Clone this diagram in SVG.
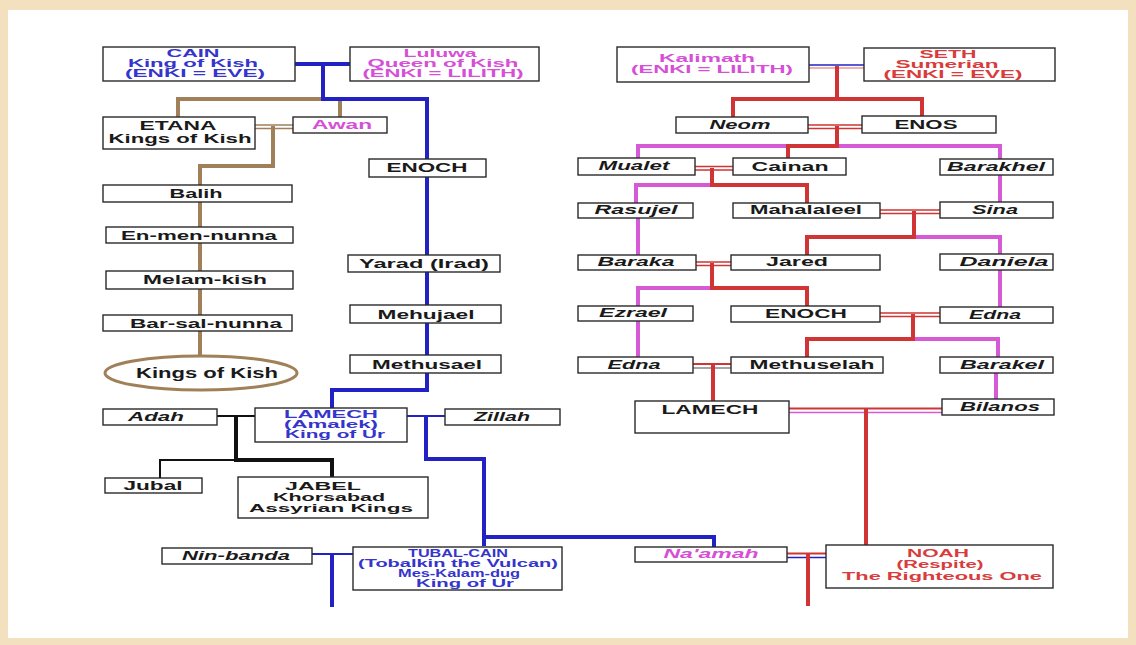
<svg xmlns="http://www.w3.org/2000/svg" width="1136" height="645" viewBox="0 0 1136 645">
<style>
.bx{fill:#fff;stroke:#2a2a2a;stroke-width:1.4}
.t{font-family:"Liberation Sans",Arial,sans-serif;font-weight:bold;text-anchor:middle;font-size:12px;fill:#1a1a1a}
.sm{font-size:10.5px}
.it{font-style:italic}
.tb{fill:#3535cc}
.tm{fill:#d64fd6}
.tr{fill:#d83c3c}
.lb{stroke:#2222c4;fill:none}
.lr{stroke:#d03434;fill:none}
.lm{stroke:#d659d6;fill:none}
.ln{stroke:#a08058;fill:none}
.lk{stroke:#111;fill:none}
.w4{stroke-width:4}
.w2{stroke-width:2}
.w1{stroke-width:1.3}
</style>
<rect x="0" y="0" width="1136" height="645" fill="#f2e0bf"/>
<rect x="8" y="10" width="1120" height="628" fill="#fff"/>

<g id="connectors">
  <path class="ln w4" d="M178 117V99H323M340 99V117"/>
  <path class="ln w1" d="M255 125H293M255 128.5H293"/>
  <path class="ln w4" d="M273 126V166H200V356"/>
  <path class="lb w4" d="M293 64H353M323 64V99H427V390H332V408"/>
  <path class="lk w2" d="M217 416H255"/>
  <path class="lk w4" d="M236 416V460H332V477"/>
  <path class="lk w2" d="M236 460H160V478"/>
  <path class="lb w2" d="M407 416H445"/>
  <path class="lb w4" d="M426 416V459H484V546M484 537H714V547"/>
  <path class="lb w2" d="M312 554H353"/>
  <path class="lb w4" d="M332 554V607"/>
  <path class="lr w2" d="M787 553.5H826"/>
  <path class="lb w1" d="M787 557.5H826"/>
  <path class="lr w4" d="M808 554V606"/>
  <path class="lb w1" d="M809 65H864"/>
  <path class="lr w1" d="M809 68H864" stroke-opacity="0.5"/>
  <path class="lr w4" d="M837 66V99M733 117V99H922V116"/>
  <path class="lr w1" d="M808 125H862M808 128.5H862"/>
  <path class="lm w4" d="M638 158V146H1000V159"/>
  <path class="lr w4" d="M837 126V146H788V158"/>
  <path class="lr w1" d="M695 166.5H733M695 170H733"/>
  <path class="lm w4" d="M712 185H636V203"/>
  <path class="lr w4" d="M712 168V185H807V203"/>
  <path class="lm w4" d="M638 218V255M1000 175V202"/>
  <path class="lr w1" d="M880 210H940M880 213.5H940"/>
  <path class="lm w4" d="M914 237H1000V254"/>
  <path class="lr w4" d="M914 211V237H807V255"/>
  <path class="lr w1" d="M696 262H731M696 265.5H731"/>
  <path class="lm w4" d="M712 288H638V306"/>
  <path class="lr w4" d="M712 263V288H807V306"/>
  <path class="lm w4" d="M1000 270V307M638 321V357"/>
  <path class="lr w1" d="M880 313H940M880 316.5H940"/>
  <path class="lm w4" d="M913 339H998V357"/>
  <path class="lr w4" d="M913 314V339H807V357"/>
  <path class="lr w2" d="M693 364H731"/>
  <path class="lk w1" d="M693 368H731" stroke-opacity="0.5"/>
  <path class="lr w4" d="M713 364V401"/>
  <path class="lm w4" d="M996 373V399"/>
  <path class="lr w2" d="M789 408.5H942"/>
  <path class="lm w1" d="M789 412.5H942"/>
  <path class="lr w4" d="M866 409V545"/>
</g>

<g id="cain"><rect class="bx" x="103" y="47" width="192" height="34"/>
<text class="t sm tb" x="193" y="57" textLength="53" lengthAdjust="spacingAndGlyphs">CAIN</text>
<text class="t sm tb" x="193" y="67" textLength="130" lengthAdjust="spacingAndGlyphs">King of Kish</text>
<text class="t sm tb" x="195" y="77" textLength="140" lengthAdjust="spacingAndGlyphs">(ENKI = EVE)</text></g>

<g id="luluwa"><rect class="bx" x="350" y="47" width="189" height="34"/>
<text class="t sm tm" x="440" y="57" textLength="73" lengthAdjust="spacingAndGlyphs">Luluwa</text>
<text class="t sm tm" x="443" y="67" textLength="151" lengthAdjust="spacingAndGlyphs">Queen of Kish</text>
<text class="t sm tm" x="443" y="77" textLength="161" lengthAdjust="spacingAndGlyphs">(ENKI = LILITH)</text></g>

<g id="etana"><rect class="bx" x="103" y="117" width="152" height="32"/>
<text class="t" x="178" y="130" textLength="77" lengthAdjust="spacingAndGlyphs">ETANA</text>
<text class="t" x="180" y="143" textLength="143" lengthAdjust="spacingAndGlyphs">Kings of Kish</text></g>

<g id="awan"><rect class="bx" x="293" y="117" width="94" height="16"/>
<text class="t tm" x="342" y="129" textLength="60" lengthAdjust="spacingAndGlyphs">Awan</text></g>

<g id="balih"><rect class="bx" x="103" y="185" width="189" height="17"/>
<text class="t" x="196" y="198" textLength="53" lengthAdjust="spacingAndGlyphs">Balih</text></g>

<g id="enmennunna"><rect class="bx" x="106" y="227" width="187" height="16"/>
<text class="t" x="199" y="240" textLength="156" lengthAdjust="spacingAndGlyphs">En-men-nunna</text></g>

<g id="melamkish"><rect class="bx" x="106" y="271" width="187" height="18"/>
<text class="t" x="205" y="284" textLength="124" lengthAdjust="spacingAndGlyphs">Melam-kish</text></g>

<g id="barsalnunna"><rect class="bx" x="103" y="315" width="189" height="16"/>
<text class="t" x="206" y="328" textLength="152" lengthAdjust="spacingAndGlyphs">Bar-sal-nunna</text></g>

<g id="kingsofkish"><ellipse cx="201" cy="373" rx="96" ry="17" fill="#fff" stroke="#a08058" stroke-width="3"/>
<text class="t" style="font-size:15px" x="207" y="378" textLength="142" lengthAdjust="spacingAndGlyphs">Kings of Kish</text></g>

<g id="enoch-l"><rect class="bx" x="369" y="159" width="117" height="18"/>
<text class="t" x="427" y="172" textLength="81" lengthAdjust="spacingAndGlyphs">ENOCH</text></g>

<g id="yarad"><rect class="bx" x="348" y="255" width="152" height="17"/>
<text class="t" x="424" y="268" textLength="130" lengthAdjust="spacingAndGlyphs">Yarad (Irad)</text></g>

<g id="mehujael"><rect class="bx" x="350" y="305" width="151" height="18"/>
<text class="t" x="426" y="319" textLength="97" lengthAdjust="spacingAndGlyphs">Mehujael</text></g>

<g id="methusael"><rect class="bx" x="350" y="355" width="151" height="18"/>
<text class="t" x="427" y="369" textLength="110" lengthAdjust="spacingAndGlyphs">Methusael</text></g>

<g id="lamech-l"><rect class="bx" x="255" y="408" width="152" height="34"/>
<text class="t sm tb" x="331" y="418" textLength="94" lengthAdjust="spacingAndGlyphs">LAMECH</text>
<text class="t sm tb" x="331" y="428" textLength="94" lengthAdjust="spacingAndGlyphs">(Amalek)</text>
<text class="t sm tb" x="335" y="438" textLength="100" lengthAdjust="spacingAndGlyphs">King of Ur</text></g>

<g id="adah"><rect class="bx" x="103" y="409" width="114" height="16"/>
<text class="t it" x="156" y="421" textLength="56" lengthAdjust="spacingAndGlyphs">Adah</text></g>

<g id="zillah"><rect class="bx" x="445" y="409" width="115" height="16"/>
<text class="t it" x="502" y="421" textLength="56" lengthAdjust="spacingAndGlyphs">Zillah</text></g>

<g id="jubal"><rect class="bx" x="105" y="478" width="97" height="15"/>
<text class="t" x="153" y="490" textLength="59" lengthAdjust="spacingAndGlyphs">Jubal</text></g>

<g id="jabel"><rect class="bx" x="238" y="477" width="190" height="41"/>
<text class="t sm" x="323" y="490" textLength="76" lengthAdjust="spacingAndGlyphs">JABEL</text>
<text class="t sm" x="329" y="501" textLength="112" lengthAdjust="spacingAndGlyphs">Khorsabad</text>
<text class="t sm" x="331" y="512" textLength="164" lengthAdjust="spacingAndGlyphs">Assyrian Kings</text></g>

<g id="ninbanda"><rect class="bx" x="162" y="548" width="150" height="16"/>
<text class="t it" x="236" y="560" textLength="108" lengthAdjust="spacingAndGlyphs">Nin-banda</text></g>

<g id="tubalcain"><rect class="bx" x="353" y="547" width="209" height="43"/>
<text class="t sm tb" x="458" y="557" textLength="100" lengthAdjust="spacingAndGlyphs">TUBAL-CAIN</text>
<text class="t sm tb" x="458" y="567" textLength="200" lengthAdjust="spacingAndGlyphs">(Tobalkin the Vulcan)</text>
<text class="t sm tb" x="459" y="577" textLength="122" lengthAdjust="spacingAndGlyphs">Mes-Kalam-dug</text>
<text class="t sm tb" x="465" y="587" textLength="98" lengthAdjust="spacingAndGlyphs">King of Ur</text></g>

<g id="naamah"><rect class="bx" x="635" y="547" width="152" height="15"/>
<text class="t it tm" x="711" y="558" textLength="95" lengthAdjust="spacingAndGlyphs">Na'amah</text></g>

<g id="noah"><rect class="bx" x="826" y="545" width="227" height="43"/>
<text class="t sm tr" x="938" y="557" textLength="62" lengthAdjust="spacingAndGlyphs">NOAH</text>
<text class="t sm tr" x="940" y="568" textLength="87" lengthAdjust="spacingAndGlyphs">(Respite)</text>
<text class="t sm tr" x="942" y="580" textLength="200" lengthAdjust="spacingAndGlyphs">The Righteous One</text></g>

<g id="kalimath"><rect class="bx" x="617" y="47" width="192" height="35"/>
<text class="t sm tm" x="707" y="62" textLength="96" lengthAdjust="spacingAndGlyphs">Kalimath</text>
<text class="t sm tm" x="712" y="73" textLength="162" lengthAdjust="spacingAndGlyphs">(ENKI = LILITH)</text></g>

<g id="seth"><rect class="bx" x="864" y="48" width="191" height="33"/>
<text class="t sm tr" x="948" y="58" textLength="57" lengthAdjust="spacingAndGlyphs">SETH</text>
<text class="t sm tr" x="947" y="68" textLength="103" lengthAdjust="spacingAndGlyphs">Sumerian</text>
<text class="t sm tr" x="953" y="78" textLength="139" lengthAdjust="spacingAndGlyphs">(ENKI = EVE)</text></g>

<g id="neom"><rect class="bx" x="676" y="117" width="132" height="16"/>
<text class="t it" x="740" y="129" textLength="61" lengthAdjust="spacingAndGlyphs">Neom</text></g>

<g id="enos"><rect class="bx" x="862" y="116" width="134" height="17"/>
<text class="t" x="926" y="129" textLength="63" lengthAdjust="spacingAndGlyphs">ENOS</text></g>

<g id="mualet"><rect class="bx" x="578" y="158" width="117" height="17"/>
<text class="t it" x="634" y="170" textLength="71" lengthAdjust="spacingAndGlyphs">Mualet</text></g>

<g id="cainan"><rect class="bx" x="733" y="158" width="113" height="17"/>
<text class="t" x="790" y="171" textLength="77" lengthAdjust="spacingAndGlyphs">Cainan</text></g>

<g id="barakhel"><rect class="bx" x="940" y="159" width="113" height="16"/>
<text class="t it" x="996" y="171" textLength="98" lengthAdjust="spacingAndGlyphs">Barakhel</text></g>

<g id="rasujel"><rect class="bx" x="578" y="203" width="115" height="15"/>
<text class="t it" x="636" y="214" textLength="83" lengthAdjust="spacingAndGlyphs">Rasujel</text></g>

<g id="mahalaleel"><rect class="bx" x="733" y="203" width="147" height="15"/>
<text class="t" x="806" y="214" textLength="112" lengthAdjust="spacingAndGlyphs">Mahalaleel</text></g>

<g id="sina"><rect class="bx" x="940" y="202" width="113" height="16"/>
<text class="t it" x="995" y="214" textLength="46" lengthAdjust="spacingAndGlyphs">Sina</text></g>

<g id="baraka"><rect class="bx" x="578" y="255" width="118" height="15"/>
<text class="t it" x="636" y="266" textLength="77" lengthAdjust="spacingAndGlyphs">Baraka</text></g>

<g id="jared"><rect class="bx" x="731" y="255" width="149" height="15"/>
<text class="t" x="797" y="266" textLength="62" lengthAdjust="spacingAndGlyphs">Jared</text></g>

<g id="daniela"><rect class="bx" x="940" y="254" width="113" height="16"/>
<text class="t it" x="1004" y="266" textLength="89" lengthAdjust="spacingAndGlyphs">Daniela</text></g>

<g id="ezrael"><rect class="bx" x="578" y="306" width="115" height="15"/>
<text class="t it" x="633" y="317" textLength="68" lengthAdjust="spacingAndGlyphs">Ezrael</text></g>

<g id="enoch-r"><rect class="bx" x="731" y="306" width="149" height="16"/>
<text class="t" x="806" y="318" textLength="82" lengthAdjust="spacingAndGlyphs">ENOCH</text></g>

<g id="edna-r"><rect class="bx" x="940" y="307" width="113" height="16"/>
<text class="t it" x="995" y="319" textLength="52" lengthAdjust="spacingAndGlyphs">Edna</text></g>

<g id="edna-l"><rect class="bx" x="578" y="357" width="115" height="16"/>
<text class="t it" x="634" y="369" textLength="53" lengthAdjust="spacingAndGlyphs">Edna</text></g>

<g id="methuselah"><rect class="bx" x="731" y="357" width="152" height="16"/>
<text class="t" x="812" y="369" textLength="125" lengthAdjust="spacingAndGlyphs">Methuselah</text></g>

<g id="barakel"><rect class="bx" x="940" y="357" width="113" height="16"/>
<text class="t it" x="1002" y="369" textLength="84" lengthAdjust="spacingAndGlyphs">Barakel</text></g>

<g id="lamech-r"><rect class="bx" x="635" y="401" width="154" height="32"/>
<text class="t" x="710" y="414" textLength="97" lengthAdjust="spacingAndGlyphs">LAMECH</text></g>

<g id="bilanos"><rect class="bx" x="942" y="399" width="112" height="16"/>
<text class="t it" x="1000" y="411" textLength="80" lengthAdjust="spacingAndGlyphs">Bilanos</text></g>
</svg>
